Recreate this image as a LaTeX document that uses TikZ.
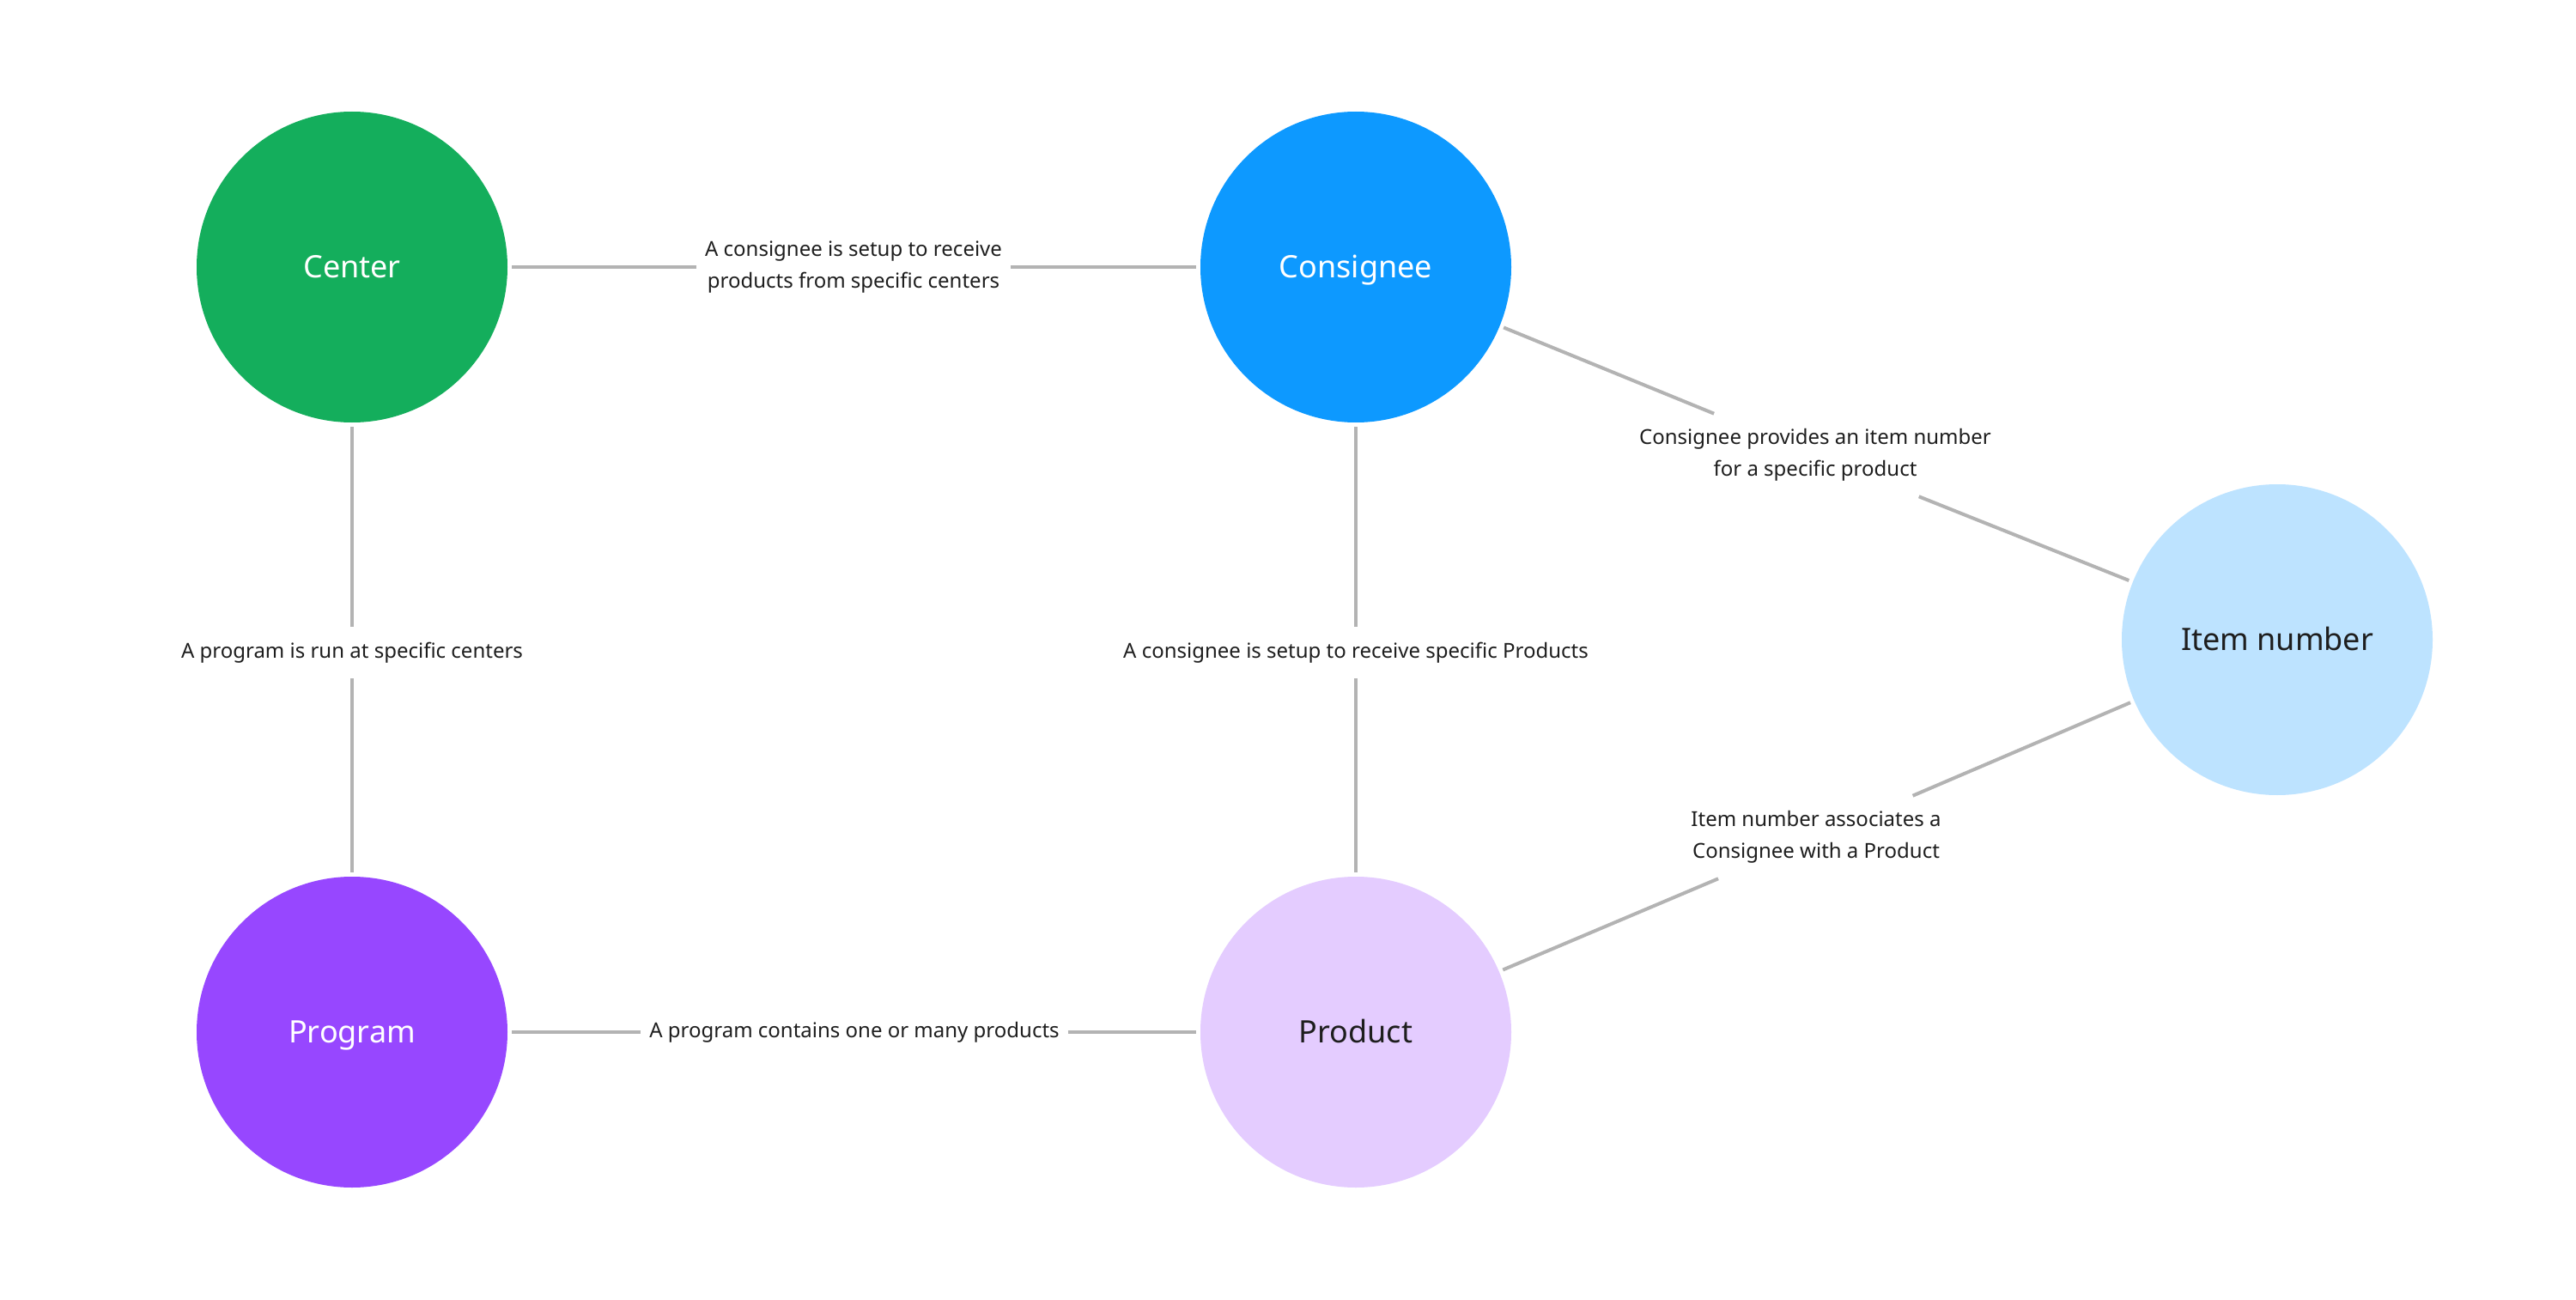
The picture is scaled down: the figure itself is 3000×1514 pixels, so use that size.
\documentclass[tikz,border=0pt]{standalone}
\usepackage{fontspec}
\setmainfont{Noto Sans}
\definecolor{cgreen}{HTML}{14AE5C}
\definecolor{cblue}{HTML}{0D99FF}
\definecolor{cpurple}{HTML}{9747FF}
\definecolor{clblue}{HTML}{BDE3FF}
\definecolor{clpurple}{HTML}{E4CCFF}
\definecolor{linegray}{HTML}{B3B3B3}
\definecolor{txt}{HTML}{1E1E1E}
\begin{document}
\begin{tikzpicture}[x=0.5pt,y=-0.5pt,
  ent/.style={circle, minimum size=181pt, inner sep=0pt, outer sep=2.5pt,
    font=\fontsize{18}{22}\selectfont, text height=12.85pt, text depth=0pt},
  rel/.style={fill=white, inner xsep=5pt, inner ysep=9pt, outer sep=0pt,
    align=center, text=txt, font=\fontsize{12}{18.3}\selectfont},
  conn/.style={draw=linegray, line width=2pt}]
\useasboundingbox[fill=white] (0,0) rectangle (3000,1514);
\node[ent, fill=cgreen, text=white] (center) at (410,311) {Center};
\node[ent, fill=cblue, text=white] (consignee) at (1579,311) {Consignee};
\node[ent, fill=cpurple, text=white] (program) at (410,1202) {Program};
\node[ent, fill=clpurple, text=txt] (product) at (1579,1202) {Product};
\node[ent, fill=clblue, text=txt] (item) at (2652,745) {Item number};

\node[rel] (l1) at (994,311) {A consignee is setup to receive\\products from specific centers};
\node[rel] (l2) at (410,760) {A program is run at specific centers};
\node[rel] (l3) at (1579,760) {A consignee is setup to receive specific Products};
\node[rel] (l4) at (995,1202) {A program contains one or many products};
\node[rel] (l5) at (2114,530) {Consignee provides an item number\\for a specific product};
\node[rel] (l6) at (2115,975) {Item number associates a\\Consignee with a Product};

\draw[conn] (center) -- (l1);
\draw[conn] (l1) -- (consignee);
\draw[conn] (center) -- (l2);
\draw[conn] (l2) -- (program);
\draw[conn] (consignee) -- (l3);
\draw[conn] (l3) -- (product);
\draw[conn] (program) -- (l4);
\draw[conn] (l4) -- (product);
\draw[conn] (consignee) -- (l5);
\draw[conn] (l5) -- (item);
\draw[conn] (item) -- (l6);
\draw[conn] (l6) -- (product);
\end{tikzpicture}
\end{document}
